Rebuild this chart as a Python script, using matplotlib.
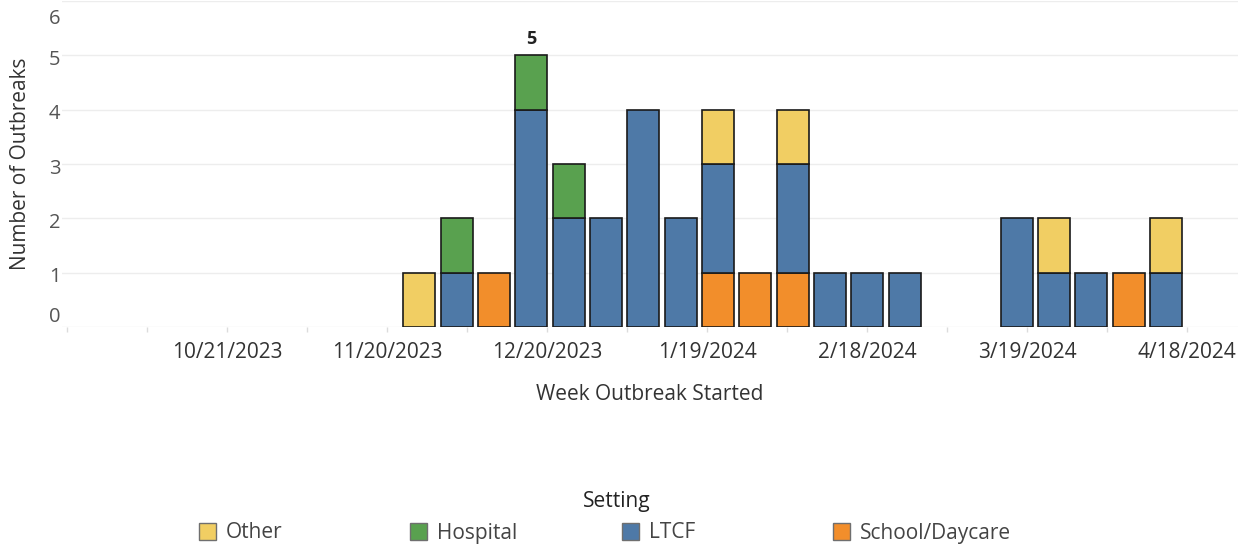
import numpy as np
import matplotlib
matplotlib.use("Agg")
import matplotlib.pyplot as plt
import matplotlib.dates as mdates
import matplotlib.transforms as mtransforms
from matplotlib.patches import Rectangle
import datetime as dt

plt.rcParams['font.family'] = ['Open Sans', 'DejaVu Sans']

# ---- data ----
weeks = ['2023-11-26', '2023-12-03', '2023-12-10', '2023-12-17', '2023-12-24',
         '2023-12-31', '2024-01-07', '2024-01-14', '2024-01-21', '2024-01-28',
         '2024-02-04', '2024-02-11', '2024-02-18', '2024-02-25',
         '2024-03-17', '2024-03-24', '2024-03-31', '2024-04-07', '2024-04-14']
school = [0, 0, 1, 0, 0, 0, 0, 0, 1, 1, 1, 0, 0, 0, 0, 0, 0, 1, 0]
ltcf = [0, 1, 0, 4, 2, 2, 4, 2, 2, 0, 2, 1, 1, 1, 2, 1, 1, 0, 1]
hospital = [0, 1, 0, 1, 1, 0, 0, 0, 0, 0, 0, 0, 0, 0, 0, 0, 0, 0, 0]
other = [1, 0, 0, 0, 0, 0, 0, 0, 1, 0, 1, 0, 0, 0, 0, 1, 0, 0, 1]
settings = ['Other', 'Hospital', 'LTCF', 'School/Daycare']
colors = {'Other': '#F1CE63', 'Hospital': '#59A14F', 'LTCF': '#4E79A7',
          'School/Daycare': '#F28E2B'}
tick_labels = ['10/21/2023', '11/20/2023', '12/20/2023', '1/19/2024',
               '2/18/2024', '3/19/2024', '4/18/2024']

W, H = 1245, 544
fig = plt.figure(figsize=(W / 100, H / 100), dpi=100)
AX_L, AX_R, AX_B, AX_T = 62, 1238, 327, 1
ax = fig.add_axes([AX_L / W, (H - AX_B) / H, (AX_R - AX_L) / W, (AX_B - AX_T) / H])

x = mdates.date2num([dt.datetime.strptime(w, '%Y-%m-%d') for w in weeks])
stack_order = [('School/Daycare', school), ('LTCF', ltcf),
               ('Hospital', hospital), ('Other', other)]
bottom = np.zeros(len(x))
for name, vals in stack_order:
    v = np.array(vals, dtype=float)
    m = v > 0
    ax.bar(x[m], v[m], bottom=bottom[m], width=6, color=colors[name],
           edgecolor='#1a1a1a', linewidth=1.2, zorder=3)
    bottom += v

totals = bottom
imax = int(np.argmax(totals))
ax.annotate(f'{int(totals[imax])}', (x[imax], totals[imax]), xytext=(0, 5),
            textcoords='offset points', ha='center', va='bottom',
            fontsize=13, fontweight='bold', color='#222222')

# axes
xmin = mdates.date2num(dt.datetime(2023, 9, 20))
xmax = mdates.date2num(dt.datetime(2024, 4, 27, 12))
for s in ax.spines.values():
    s.set_visible(False)
ax.grid(axis='y', color='#ededed', linewidth=1, zorder=0)
ax.set_axisbelow(True)

maj = mdates.date2num([dt.datetime.strptime(t, '%m/%d/%Y') for t in tick_labels])
ax.set_xticks(maj)
ax.set_xticklabels(tick_labels)
minor = mdates.date2num([dt.datetime(2023, 9, 21) + dt.timedelta(days=15 * k)
                         for k in range(0, 16)])
ax.set_xticks([m for m in minor if m not in maj and xmin <= m <= xmax], minor=True)
ax.tick_params(axis='x', which='both', length=3.5, color='#dcdcdc', width=1,
               labelsize=15, labelcolor='#333333', pad=7)
ax.set_xlim(xmin, xmax)

ax.set_yticks(range(0, 7))
ax.set_yticklabels([str(i) for i in range(0, 7)])
ax.set_ylim(0, 6)
ax.tick_params(axis='y', length=0, labelsize=14.5, labelcolor='#555555', pad=1)
ylabs = ax.get_yticklabels()
shifts = {0: 12, 6: -15}
for i, lab in enumerate(ylabs):
    dy = shifts.get(i, -2)
    lab.set_transform(lab.get_transform() +
                      mtransforms.ScaledTranslation(0, dy / 100, fig.dpi_scale_trans))

ax.set_xlabel('Week Outbreak Started', fontsize=15, color='#333333', va='center')
ax.xaxis.set_label_coords(0.5, (AX_B - 394) / (AX_B - AX_T))
ax.set_ylabel('Number of Outbreaks', fontsize=15, color='#333333', va='center')
ax.yaxis.set_label_coords((21 - AX_L) / (AX_R - AX_L), 0.5)

# legend (fixed-width columns like the reference)
fig.text(617 / W, 1 - 501 / H, 'Setting', ha='center', va='center',
         fontsize=15, color='#222222')
x0, step = 199, 211.3
for i, name in enumerate(settings):
    px = x0 + i * step
    fig.patches.append(Rectangle((px / W, 1 - 540 / H), 17 / W, 17 / H,
                                 transform=fig.transFigure,
                                 facecolor=colors[name], edgecolor='#6f6f6f',
                                 linewidth=1))
    fig.text((px + 27) / W, 1 - 533 / H, name, ha='left', va='center',
             fontsize=15, color='#444444')

fig.savefig('out.png', dpi=100)
